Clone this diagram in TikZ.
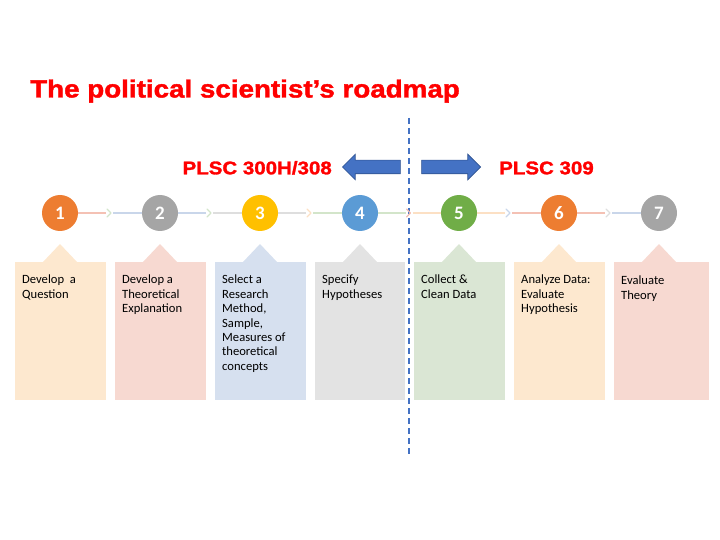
\documentclass[tikz,border=0pt]{standalone}
\usepackage{fontspec}
\setmainfont{Carlito}
\newfontfamily\headfont[FakeStretch=1.12, BoldFeatures={FakeBold=1.6}]{Liberation Sans}
\usetikzlibrary{calc,shapes.arrows}

\definecolor{titlered}{HTML}{FF0000}
\definecolor{arrowblue}{HTML}{4472C4}
\definecolor{arrowedge}{HTML}{2F528F}
\definecolor{cOrange}{HTML}{ED7D31}
\definecolor{cGray}{HTML}{A5A5A5}
\definecolor{cGold}{HTML}{FFC000}
\definecolor{cBlue}{HTML}{5B9BD5}
\definecolor{cGreen}{HTML}{70AD47}
\definecolor{bPeach}{HTML}{FDE8CF}
\definecolor{bPink}{HTML}{F7D9D1}
\definecolor{bBlue}{HTML}{D6E0EF}
\definecolor{bGray}{HTML}{E3E3E3}
\definecolor{bGreen}{HTML}{DAE6D4}
\definecolor{lPink}{HTML}{F4C1B4}
\definecolor{lBlue}{HTML}{C9D6EA}
\definecolor{lGreen}{HTML}{D3E5CA}
\definecolor{lGray}{HTML}{DEDEDE}
\definecolor{lPeach}{HTML}{FCE0C4}

\tikzset{
  stepnum/.style={circle, fill=#1, minimum size=36pt, inner sep=0pt,
    text=white, font=\fontsize{19}{19}\selectfont\bfseries},
  stepbox/.style={rectangle, fill=#1, minimum width=91pt, minimum height=138pt,
    anchor=north west, inner sep=0pt},
  boxtext/.style={anchor=north west, align=left, inner sep=0pt,
    font=\fontsize{12.6}{14.4}\selectfont},
  link/.style={line width=1.4pt, draw=#1},
  chev/.style={line width=1.3pt, draw=#1, line cap=round, line join=round},
  course/.style={text=titlered, font=\headfont\fontsize{18.3}{18.3}\selectfont\bfseries},
  blockarrow/.style={single arrow, fill=arrowblue, draw=arrowedge, line width=0.6pt,
    inner xsep=0pt, inner ysep=6.5pt, single arrow head extend=6pt,
    single arrow tip angle=90, anchor=tip},
}

\begin{document}
\begin{tikzpicture}[x=1pt,y=-1pt]
\useasboundingbox (0,0) rectangle (720,540);

% title
\node[anchor=base west, text=titlered, inner sep=0pt,
  font=\headfont\fontsize{24.8}{24.8}\selectfont\bfseries]
  (title) at (30,97.5) {The political scientist’s roadmap};

% course split line and direction arrows
\coordinate (splittop) at (409,118);
\coordinate (splitbot) at (409,455);
\draw[arrowblue, line width=1.5pt, dash pattern=on 6pt off 4pt] (splittop) -- (splitbot);

\node[blockarrow, shape border rotate=180, minimum height=58pt] (leftarr) at (342,167) {};
\node[blockarrow, minimum height=59pt] (rightarr) at (481,167) {};

\node[course, anchor=base east, inner sep=0pt] (lefttxt) at (332,174.3) {PLSC 300H/308};
\node[course, anchor=base west, inner sep=0pt] (righttxt) at (499,174.3) {PLSC 309};

% step circles
\node[stepnum=cOrange] (c1) at (60,213) {1};
\node[stepnum=cGray]   (c2) at (160,213) {2};
\node[stepnum=cGold]   (c3) at (260,213) {3};
\node[stepnum=cBlue]   (c4) at (360,213) {4};
\node[stepnum=cGreen]  (c5) at (459,213) {5};
\node[stepnum=cOrange] (c6) at (559,213) {6};
\node[stepnum=cGray]   (c7) at (659,213) {7};

% links between circles with a chevron at the middle
\foreach \a/\b/\ca/\cm/\cb in {c1/c2/lPink/lGreen/lBlue, c2/c3/lBlue/lGreen/lGray,
    c3/c4/lGray/lPeach/lGreen, c4/c5/lGreen/lPink/lPeach,
    c5/c6/lPeach/lBlue/lPink, c6/c7/lPink/lGray/lBlue}{
  \coordinate (m) at ($(\a)!0.5!(\b)$);
  \draw[link=\ca] (\a.east) -- ($(m)+(-4,0)$);
  \draw[link=\cb] ($(m)+(3,0)$) -- (\b.west);
  \draw[chev=\cm] ($(m)+(-3,-4)$) -- ($(m)+(1,0)$) -- ($(m)+(-3,4)$);
}

% description boxes with a pointer towards each circle
\foreach \n/\x/\w/\col in {1/15/91/bPeach, 2/115/91/bPink, 3/215/91/bBlue, 4/315/90/bGray,
    5/414/91/bGreen, 6/514/91/bPeach, 7/614/95/bPink}{
  \node[stepbox=\col, minimum width=\w pt] (b\n) at (\x,262) {};
  \coordinate (p) at (c\n |- b\n.north);
  \fill[\col] ($(p)+(-17.5,0.5)$) -- ($(p)+(0,-18)$) -- ($(p)+(17.5,0.5)$) -- cycle;
}

\node[boxtext] (t1) at ($(b1.north west)+(7,13)$) {Develop\ \ a\\Question};
\node[boxtext] (t2) at ($(b2.north west)+(7,13)$) {Develop a\\Theoretical\\Explanation};
\node[boxtext] (t3) at ($(b3.north west)+(7,13)$) {Select a\\Research\\Method,\\Sample,\\Measures of\\theoretical\\concepts};
\node[boxtext] (t4) at ($(b4.north west)+(7,13)$) {Specify\\Hypotheses};
\node[boxtext] (t5) at ($(b5.north west)+(7,13)$) {Collect \&\\Clean Data};
\node[boxtext] (t6) at ($(b6.north west)+(7,13)$) {Analyze Data:\\Evaluate\\Hypothesis};
\node[boxtext] (t7) at ($(b7.north west)+(7,14)$) {Evaluate\\Theory};
\end{tikzpicture}
\end{document}
